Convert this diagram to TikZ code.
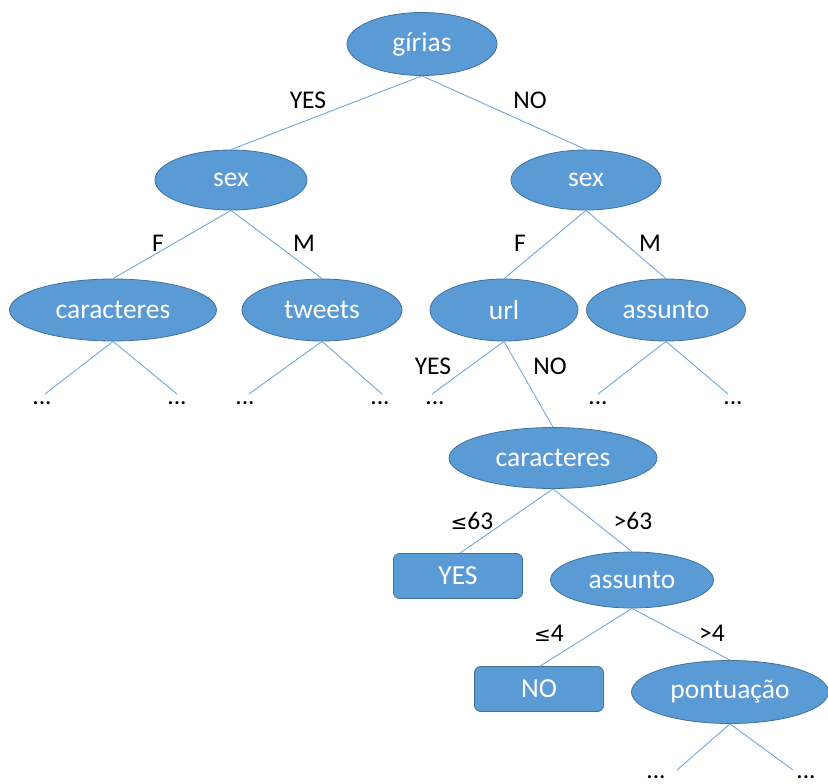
\documentclass[tikz,border=0pt]{standalone}
\usepackage{fontspec}
\setmainfont{Carlito}
\usetikzlibrary{shapes.geometric}
\definecolor{nodefill}{HTML}{5B9BD5}
\definecolor{nodeedge}{HTML}{41719C}
\definecolor{edgeblue}{HTML}{6FA8DC}
\newcommand{\nodefont}{\fontsize{27.5}{30}\selectfont}
\newcommand{\lblfont}{\fontsize{25.5}{28}\selectfont}
\newfontfamily\symfont{DejaVu Sans}
\tikzset{
  ell/.style={ellipse, draw=nodeedge, line width=0.8pt, fill=nodefill, text=white, font=\nodefont, inner sep=0pt},
  rbox/.style={rectangle, rounded corners=6pt, draw=nodeedge, line width=0.8pt, fill=nodefill, text=white, font=\nodefont, minimum width=129pt, minimum height=45pt, inner sep=0pt},
  lbl/.style={text=black, font=\lblfont, inner sep=0pt},
  dots/.style={text=black, font=\lblfont, inner sep=0pt},
  edge/.style={draw=edgeblue, line width=0.9pt}
}
\begin{document}
\begin{tikzpicture}[x=1pt,y=-1pt]
\useasboundingbox (0,0) rectangle (828,784);
% nodes
\node[ell, minimum width=150pt, minimum height=63pt] (g) at (422,44) {gírias};
\node[ell, minimum width=152pt, minimum height=60pt] (sl) at (231,180) {sex};
\node[ell, minimum width=150pt, minimum height=60pt] (sr) at (586,180) {sex};
\node[ell, minimum width=207pt, minimum height=62pt] (cl) at (113,310) {caracteres};
\node[ell, minimum width=160pt, minimum height=62pt] (tw) at (322,310) {tweets};
\node[ell, minimum width=148pt, minimum height=62pt] (url) at (504,310) {url};
\node[ell, minimum width=159pt, minimum height=62pt] (as1) at (666,310) {assunto};
\node[ell, minimum width=208pt, minimum height=61pt] (cm) at (553,458) {caracteres};
\node[rbox] (yes) at (458,576) {YES};
\node[ell, minimum width=163pt, minimum height=56pt] (as2) at (632,580) {assunto};
\node[rbox] (no) at (539,689) {NO};
\node[ell, minimum width=197pt, minimum height=63pt] (pt) at (730,692) {pontuação};
% free end coordinates
\coordinate (cl1) at (45,394); \coordinate (cl2) at (177,394);
\coordinate (tw1) at (249,394); \coordinate (tw2) at (382,394);
\coordinate (u1) at (432,394);
\coordinate (a1) at (598,394); \coordinate (a2) at (728,394);
\coordinate (p1) at (677,770); \coordinate (p2) at (793,770);
% edges
\draw[edge] (g.south) -- (sl.north);
\draw[edge] (g.south) -- (sr.north);
\draw[edge] (sl.south) -- (cl.north);
\draw[edge] (sl.south) -- (tw.north);
\draw[edge] (sr.south) -- (url.north);
\draw[edge] (sr.south) -- (as1.north);
\draw[edge] (cl.south) -- (cl1);
\draw[edge] (cl.south) -- (cl2);
\draw[edge] (tw.south) -- (tw1);
\draw[edge] (tw.south) -- (tw2);
\draw[edge] (url.south) -- (u1);
\draw[edge] (url.south) -- (cm.north);
\draw[edge] (as1.south) -- (a1);
\draw[edge] (as1.south) -- (a2);
\draw[edge] (cm.south) -- ([xshift=2pt]yes.north);
\draw[edge] (cm.south) -- (as2.north);
\draw[edge] (as2.south) -- ([xshift=1pt]no.north);
\draw[edge] (as2.south) -- (pt.north);
\draw[edge] (pt.south) -- (p1);
\draw[edge] (pt.south) -- (p2);
% labels
\node[lbl] (lg1) at (308,100) {YES};
\node[lbl] (lg2) at (530,100) {NO};
\node[lbl] (ls1) at (158,243) {F};
\node[lbl] (ls2) at (304,243) {M};
\node[lbl] (ls3) at (520,243) {F};
\node[lbl] (ls4) at (650,243) {M};
\node[lbl] (lu1) at (433,366) {YES};
\node[lbl] (lu2) at (550,366) {NO};
\node[lbl] (lc1) at (472,521) {{\symfont\fontsize{20}{24}\selectfont≤}63};
\node[lbl] (lc2) at (633,521) {>63};
\node[lbl] (la1) at (549,633) {{\symfont\fontsize{20}{24}\selectfont≤}4};
\node[lbl] (la2) at (712,633) {>4};
% dots
\node[dots] (d1) at (42,403) {...};
\node[dots] (d2) at (177,403) {...};
\node[dots] (d3) at (245,403) {...};
\node[dots] (d4) at (380,403) {...};
\node[dots] (d5) at (435,403) {...};
\node[dots] (d6) at (598,403) {...};
\node[dots] (d7) at (733,403) {...};
\node[dots, anchor=south] (d8) at (656,779) {...};
\node[dots, anchor=south] (d9) at (806,779) {...};
\end{tikzpicture}
\end{document}
